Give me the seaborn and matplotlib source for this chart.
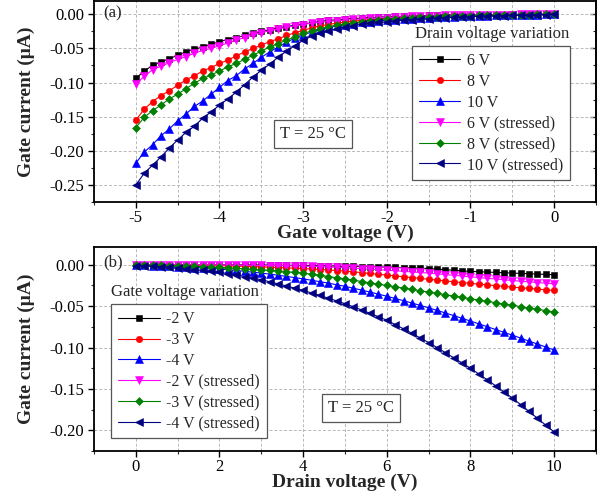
import numpy as np
import pandas as pd
import matplotlib
matplotlib.use("Agg")
import matplotlib.pyplot as plt
from matplotlib.ticker import MultipleLocator, FuncFormatter
import seaborn as sns

# ---------------- data: panel (a) gate voltage sweep ----------------
gate_v = [-5.0, -4.9, -4.8, -4.7, -4.6, -4.5, -4.4, -4.3, -4.2, -4.1, -4.0,
          -3.9, -3.8, -3.7, -3.6, -3.5, -3.4, -3.3, -3.2, -3.1, -3.0,
          -2.9, -2.8, -2.7, -2.6, -2.5, -2.4, -2.3, -2.2, -2.1, -2.0,
          -1.9, -1.8, -1.7, -1.6, -1.5, -1.4, -1.3, -1.2, -1.1, -1.0,
          -0.9, -0.8, -0.7, -0.6, -0.5, -0.4, -0.3, -0.2, -0.1, 0.0]

a_6v = [-0.094, -0.083, -0.075, -0.070, -0.065, -0.060, -0.055, -0.051, -0.048, -0.044, -0.040,
        -0.037, -0.034, -0.031, -0.028, -0.025, -0.0225, -0.020, -0.018, -0.016, -0.014,
        -0.0125, -0.0105, -0.009, -0.008, -0.007, -0.0062, -0.0055, -0.0048, -0.0042, -0.0036,
        -0.0031, -0.0027, -0.0023, -0.0020, -0.0017, -0.0014, -0.0012, -0.0010, -0.0008, -0.0007,
        -0.0006, -0.0005, -0.0004, -0.0003, -0.0002, -0.0002, -0.0001, -0.0001, 0.0, 0.0]
a_8v = [-0.155, -0.139, -0.128, -0.119, -0.112, -0.104, -0.096, -0.090, -0.083, -0.078, -0.072,
        -0.067, -0.061, -0.055, -0.050, -0.045, -0.040, -0.036, -0.031, -0.027, -0.0235,
        -0.020, -0.017, -0.015, -0.013, -0.0115, -0.010, -0.0088, -0.0077, -0.0067, -0.0058,
        -0.0050, -0.0043, -0.0037, -0.0032, -0.0027, -0.0023, -0.0019, -0.0016, -0.0013, -0.0011,
        -0.0009, -0.0007, -0.0006, -0.0005, -0.0004, -0.0003, -0.0002, -0.0001, -0.0001, 0.0]
a_10v = [-0.218, -0.202, -0.191, -0.178, -0.168, -0.156, -0.146, -0.135, -0.127, -0.117, -0.107,
         -0.097, -0.090, -0.080, -0.072, -0.063, -0.055, -0.048, -0.041, -0.035, -0.030,
         -0.026, -0.0225, -0.0195, -0.017, -0.015, -0.0135, -0.012, -0.0108, -0.0097, -0.0088,
         -0.0080, -0.0072, -0.0065, -0.0058, -0.0052, -0.0046, -0.0041, -0.0036, -0.0032, -0.0028,
         -0.0024, -0.0020, -0.0017, -0.0014, -0.0011, -0.0008, -0.0006, -0.0004, -0.0002, 0.0]
a_6v_s = [-0.102, -0.091, -0.081, -0.076, -0.071, -0.066, -0.062, -0.057, -0.053, -0.050, -0.046,
          -0.042, -0.038, -0.034, -0.030, -0.027, -0.024, -0.0215, -0.019, -0.017, -0.015,
          -0.013, -0.0118, -0.0105, -0.0095, -0.0085, -0.0076, -0.0068, -0.0060, -0.0053, -0.0047,
          -0.0041, -0.0036, -0.0031, -0.0027, -0.0023, -0.0020, -0.0017, -0.0014, -0.0012, -0.0010,
          -0.0008, -0.0007, -0.0005, -0.0004, -0.0003, -0.0002, -0.0002, -0.0001, -0.0001, 0.0]
a_8v_s = [-0.166, -0.151, -0.141, -0.133, -0.124, -0.117, -0.109, -0.101, -0.094, -0.089, -0.083,
          -0.077, -0.072, -0.066, -0.060, -0.054, -0.048, -0.043, -0.038, -0.033, -0.028,
          -0.0245, -0.021, -0.018, -0.016, -0.014, -0.0123, -0.0108, -0.0095, -0.0084, -0.0074,
          -0.0065, -0.0057, -0.0050, -0.0044, -0.0038, -0.0033, -0.0029, -0.0025, -0.0021, -0.0018,
          -0.0015, -0.0012, -0.0010, -0.0008, -0.0006, -0.0005, -0.0003, -0.0002, -0.0001, 0.0]
a_10v_s = [-0.250, -0.233, -0.221, -0.209, -0.196, -0.184, -0.173, -0.164, -0.152, -0.143, -0.133,
           -0.124, -0.114, -0.103, -0.092, -0.082, -0.073, -0.063, -0.054, -0.046, -0.038,
           -0.032, -0.0275, -0.024, -0.021, -0.0185, -0.0165, -0.0148, -0.0133, -0.0120, -0.0108,
           -0.0097, -0.0088, -0.0080, -0.0072, -0.0065, -0.0058, -0.0052, -0.0046, -0.0041, -0.0036,
           -0.0031, -0.0027, -0.0023, -0.0019, -0.0015, -0.0012, -0.0009, -0.0006, -0.0003, 0.0]

# ---------------- data: panel (b) drain voltage sweep ----------------
drain_v = [0.0, 0.2, 0.4, 0.6, 0.8, 1.0, 1.2, 1.4, 1.6, 1.8, 2.0,
           2.2, 2.4, 2.6, 2.8, 3.0, 3.2, 3.4, 3.6, 3.8, 4.0,
           4.2, 4.4, 4.6, 4.8, 5.0, 5.2, 5.4, 5.6, 5.8, 6.0,
           6.2, 6.4, 6.6, 6.8, 7.0, 7.2, 7.4, 7.6, 7.8, 8.0,
           8.2, 8.4, 8.6, 8.8, 9.0, 9.2, 9.4, 9.6, 9.8, 10.0]

b_m2v = [0.0, 0.0, 0.0, 0.0, 0.0, 0.0, 0.0, 0.0, -0.0001, -0.0001, -0.0001,
         -0.0001, -0.0001, -0.0001, -0.0002, -0.0002, -0.0003, -0.0004, -0.0005, -0.0006, -0.0007,
         -0.0009, -0.0011, -0.0013, -0.0015, -0.0017, -0.0019, -0.0021, -0.0023, -0.0025, -0.0028,
         -0.0031, -0.0034, -0.0037, -0.0041, -0.0045, -0.0052, -0.0059, -0.0066, -0.0073, -0.0080,
         -0.0084, -0.0088, -0.0092, -0.0096, -0.0100, -0.0104, -0.0108, -0.0112, -0.0116, -0.0120]
b_m3v = [0.0, 0.0, -0.0001, -0.0001, -0.0002, -0.0003, -0.0004, -0.0005, -0.0007, -0.0008, -0.0010,
         -0.0013, -0.0016, -0.0019, -0.0022, -0.0025, -0.0029, -0.0033, -0.0037, -0.0041, -0.0045,
         -0.0051, -0.0057, -0.0063, -0.0069, -0.0075, -0.0085, -0.0095, -0.0105, -0.0115, -0.0125,
         -0.0135, -0.0145, -0.0155, -0.0165, -0.0175, -0.0185, -0.0195, -0.0205, -0.0215, -0.0225,
         -0.0234, -0.0243, -0.0252, -0.0261, -0.0270, -0.0278, -0.0286, -0.0294, -0.0302, -0.0310]
b_m4v = [-0.0005, -0.0008, -0.0012, -0.0016, -0.0020, -0.0024, -0.0028, -0.0033, -0.0038, -0.0044, -0.0050,
         -0.0059, -0.0068, -0.0079, -0.0089, -0.0100, -0.0113, -0.0126, -0.0140, -0.0155, -0.0170,
         -0.0187, -0.0204, -0.0222, -0.0241, -0.0260, -0.0283, -0.0306, -0.0330, -0.0355, -0.0380,
         -0.0407, -0.0434, -0.0462, -0.0491, -0.0520, -0.0551, -0.0582, -0.0614, -0.0647, -0.0680,
         -0.0714, -0.0748, -0.0782, -0.0816, -0.0850, -0.0886, -0.0922, -0.0958, -0.0994, -0.1030]
b_m2v_s = [0.0, 0.0, 0.0, 0.0, 0.0, -0.0001, -0.0001, -0.0001, -0.0002, -0.0002, -0.0003,
           -0.0004, -0.0005, -0.0006, -0.0007, -0.0008, -0.0009, -0.0010, -0.0012, -0.0013, -0.0015,
           -0.0019, -0.0023, -0.0027, -0.0031, -0.0035, -0.0041, -0.0047, -0.0053, -0.0059, -0.0065,
           -0.0072, -0.0079, -0.0086, -0.0093, -0.0100, -0.0109, -0.0118, -0.0127, -0.0136, -0.0145,
           -0.0154, -0.0163, -0.0172, -0.0181, -0.0190, -0.0198, -0.0206, -0.0214, -0.0222, -0.0230]
b_m3v_s = [-0.0002, -0.0003, -0.0005, -0.0007, -0.0009, -0.0011, -0.0014, -0.0018, -0.0022, -0.0026, -0.0030,
           -0.0036, -0.0042, -0.0048, -0.0054, -0.0060, -0.0067, -0.0075, -0.0083, -0.0091, -0.0100,
           -0.0114, -0.0128, -0.0142, -0.0156, -0.0170, -0.0186, -0.0202, -0.0218, -0.0234, -0.0250,
           -0.0266, -0.0282, -0.0298, -0.0314, -0.0330, -0.0346, -0.0362, -0.0378, -0.0394, -0.0410,
           -0.0426, -0.0442, -0.0458, -0.0474, -0.0490, -0.0506, -0.0522, -0.0538, -0.0554, -0.0570]
b_m4v_s = [-0.0010, -0.0014, -0.0019, -0.0025, -0.0032, -0.0040, -0.0048, -0.0057, -0.0067, -0.0078, -0.0090,
           -0.0106, -0.0124, -0.0143, -0.0162, -0.0180, -0.0205, -0.0230, -0.0256, -0.0283, -0.0310,
           -0.0340, -0.0371, -0.0403, -0.0436, -0.0470, -0.0508, -0.0546, -0.0587, -0.0628, -0.0670,
           -0.0722, -0.0774, -0.0828, -0.0884, -0.0940, -0.1000, -0.1062, -0.1124, -0.1187, -0.1250,
           -0.1320, -0.1390, -0.1462, -0.1535, -0.1610, -0.1690, -0.1772, -0.1855, -0.1938, -0.2020]

labels_a = ["6 V", "8 V", "10 V", "6 V (stressed)", "8 V (stressed)", "10 V (stressed)"]
labels_b = ["-2 V", "-3 V", "-4 V", "-2 V (stressed)", "-3 V (stressed)", "-4 V (stressed)"]
series_a = [a_6v, a_8v, a_10v, a_6v_s, a_8v_s, a_10v_s]
series_b = [b_m2v, b_m3v, b_m4v, b_m2v_s, b_m3v_s, b_m4v_s]

colors = ["#000000", "#FF0000", "#0000FF", "#FF00FF", "#008000", "#000080"]
markers = ["s", "o", "^", "v", "D", "<"]
msizes = [4.0, 4.6, 5.2, 5.2, 4.0, 5.2]

sns.set_theme(style="white")
plt.rcParams["font.family"] = ["Liberation Serif", "DejaVu Serif"]
plt.rcParams["axes.unicode_minus"] = False
plt.rcParams["mathtext.fontset"] = "stix"

fig = plt.figure(figsize=(6.08, 4.96), dpi=100)
L, R = 94 / 608, 596 / 608
ax1 = fig.add_axes([L, 1 - 202 / 496, R - L, 202 / 496 - 1 / 496])
ax2 = fig.add_axes([L, 1 - 451 / 496, R - L, (451 - 247) / 496])


def draw(ax, xs, series, labels):
    for ys, lab, c, m, ms in zip(series, labels, colors, markers, msizes):
        df = pd.DataFrame({"x": xs, "y": ys})
        sns.lineplot(data=df, x="x", y="y", ax=ax, color=c, marker=m,
                     markersize=ms, markeredgewidth=0.4, markeredgecolor=c,
                     linewidth=0.8, label=lab, legend=False)


def style(ax, xlim, ylim, xmaj, xmin, xlabel):
    ax.set_xlim(*xlim)
    ax.set_ylim(*ylim)
    ax.xaxis.set_major_locator(MultipleLocator(xmaj))
    ax.xaxis.set_minor_locator(MultipleLocator(xmin))
    ax.yaxis.set_major_locator(MultipleLocator(0.05))
    ax.yaxis.set_minor_locator(MultipleLocator(0.025))
    ax.yaxis.set_major_formatter(FuncFormatter(lambda v, p: f"{v:.2f}".replace("-0.00", "0.00")))
    ax.xaxis.set_major_formatter(FuncFormatter(lambda v, p: f"{v:g}"))
    ax.grid(True, which="major", axis="y", linestyle=(0, (3, 2)), color="#b8b8b8", linewidth=0.7)
    ax.grid(True, which="both", axis="x", linestyle=(0, (3, 2)), color="#b8b8b8", linewidth=0.7)
    ax.set_axisbelow(True)
    for s in ax.spines.values():
        s.set_color("black")
        s.set_linewidth(1.3)
    ax.tick_params(which="major", direction="out", length=4, width=1.0, labelsize=12,
                   colors="black", left=True, bottom=True, pad=3)
    ax.tick_params(which="minor", direction="out", length=2.5, width=0.8,
                   left=True, bottom=True)
    ax.tick_params(axis="x", which="major", pad=1.5)
    sec = ax.secondary_yaxis("right")
    sec.yaxis.set_major_locator(MultipleLocator(0.05))
    sec.yaxis.set_minor_locator(MultipleLocator(0.025))
    sec.tick_params(which="major", direction="in", length=4, width=1.0, labelright=False)
    sec.tick_params(which="minor", direction="in", length=2.5, width=0.8)
    sec.spines["right"].set_linewidth(1.3)
    ax.set_xlabel(xlabel, fontsize=14, fontweight="bold", labelpad=-1)
    ax.set_ylabel("Gate current (\u03bcA)", fontsize=14, fontweight="bold", labelpad=4)


draw(ax1, gate_v, series_a, labels_a)
draw(ax2, drain_v, series_b, labels_b)
style(ax1, (-5.5, 0.5), (-0.275, 0.0195), 1, 0.5, "Gate voltage (V)")
style(ax2, (-1, 11), (-0.225, 0.0215), 2, 1, "Drain voltage (V)")
ax1.yaxis.set_label_coords(-0.117, 0.5)
ax2.yaxis.set_label_coords(-0.117, 0.5)

leg_kw = dict(fontsize=11.5, frameon=True, fancybox=False, edgecolor="#555555",
              handlelength=2.6, handletextpad=0.4, labelspacing=0.3,
              borderpad=0.45, numpoints=1, framealpha=1, borderaxespad=0)
h1, l1 = ax1.get_legend_handles_labels()
lg1 = ax1.legend(h1, l1, loc="upper left", bbox_to_anchor=(0.633, 0.777), **leg_kw)
lg1.get_frame().set_linewidth(0.9)
h2, l2 = ax2.get_legend_handles_labels()
lg2 = ax2.legend(h2, l2, loc="upper left", bbox_to_anchor=(0.034, 0.72), **leg_kw)
lg2.get_frame().set_linewidth(0.9)

ax1.text(0.793, 0.837, "Drain voltage variation", transform=ax1.transAxes,
         ha="center", va="center", fontsize=12)
ax2.text(0.181, 0.78, "Gate voltage variation", transform=ax2.transAxes,
         ha="center", va="center", fontsize=12)

box = dict(boxstyle="square,pad=0.35", facecolor="white", edgecolor="#555555", linewidth=0.9)
ax1.text(0.436, 0.337, "T = 25 \u00b0C", transform=ax1.transAxes, ha="center", va="center",
         fontsize=12, bbox=box)
ax2.text(0.532, 0.21, "T = 25 \u00b0C", transform=ax2.transAxes, ha="center", va="center",
         fontsize=12, bbox=box)

ax1.text(0.018, 0.94, "(a)", transform=ax1.transAxes, ha="left", va="center", fontsize=12)
ax2.text(0.018, 0.926, "(b)", transform=ax2.transAxes, ha="left", va="center", fontsize=12)

fig.savefig("out.png", dpi=100)
